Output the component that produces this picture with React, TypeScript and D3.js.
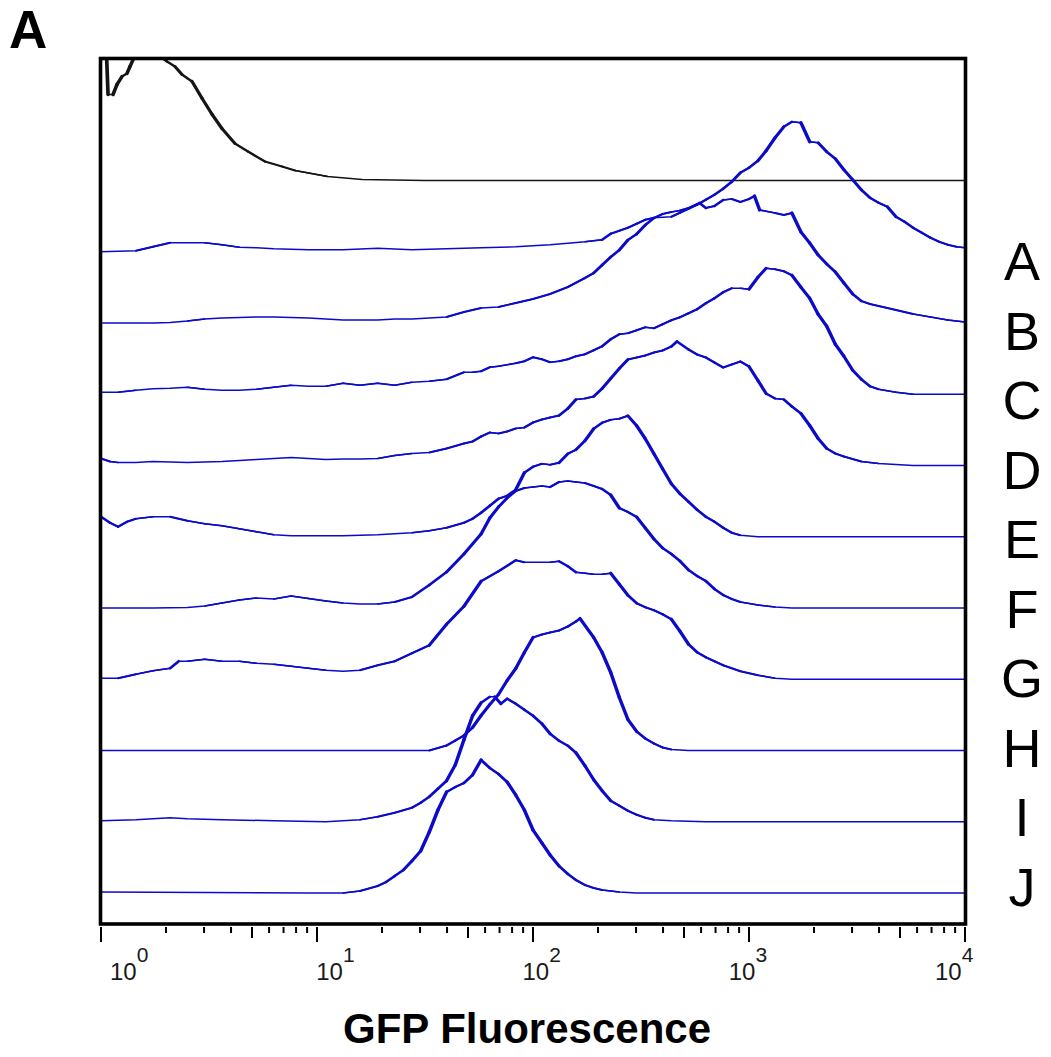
import React from "react";
import * as d3 from "d3";

type Pt = [number, number];

const rowLabels = ["A", "B", "C", "D", "E", "F", "G", "H", "I", "J"];
const tickExponents = [0, 1, 2, 3, 4];
const axisTitle = "GFP Fluorescence";
const panelLabel = "A";

// control (unstained) histogram: [fluorescence, relative count]
const control: Pt[] = [[1,150],[1.05,150],[1.078,86],[1.137,86],[1.186,96],[1.251,104],[1.319,107],[1.362,114],[1.437,125],[1.6,140],[1.78,135],[1.94,122],[2.02,119],[2.2,114],[2.37,106],[2.64,99],[2.94,82],[3.27,66],[3.63,52],[4.17,37],[4.79,29],[5.74,19],[6.89,14],[7.91,10],[11.2,4],[16.2,1],[31.6,0],[10000,0]];

const seriesA: Pt[] = [[1,0],[1.2,0.5],[1.45,1],[1.74,5],[2.09,9],[2.51,9],[3.02,9],[3.63,7],[4.37,4.5],[5.25,4],[6.31,3],[9.12,2],[13.2,2],[19.1,3.5],[27.5,2],[39.8,3],[57.5,4],[83.2,5],[100,6],[120,7],[145,8.5],[174,10],[209,12],[229,18],[251,21],[275,24],[302,28],[331,32],[363,34],[398,34.5],[437,35],[479,39],[525,43],[575,47],[631,52],[692,57],[759,63],[832,70],[912,79],[1000,84],[1100,91],[1200,101],[1320,114],[1450,125],[1580,130],[1740,129],[1910,110],[2090,109],[2290,100],[2510,93],[2750,82],[3020,72],[3310,62],[3630,54],[3980,49],[4370,45],[4790,35],[5250,30],[5750,24],[6310,19],[6920,14],[7590,10],[8320,7],[9120,5],[10000,4]];

const seriesB: Pt[] = [[1,0],[1.45,0],[1.74,0],[2.09,0.5],[2.51,2],[3.02,4],[3.63,5],[4.37,5.5],[5.25,6],[6.31,6],[7.59,5.5],[9.12,5],[11,4],[13.2,3],[15.8,3],[19.1,3],[22.9,4],[27.5,4],[33.1,5],[39.8,6],[47.9,11],[57.5,15],[69.2,16],[83.2,20],[100,24],[120,29],[145,36],[174,45],[191,50],[209,58],[229,66],[251,73],[275,83],[302,89],[331,98],[363,105],[398,109],[437,111],[479,112.5],[525,115],[590,120],[631,115],[692,117],[759,123],[832,124],[912,121],[1000,124],[1060,127],[1120,113],[1320,110],[1450,108],[1580,110],[1740,91],[1910,80],[2090,68],[2290,59],[2510,51],[2750,40],[3020,29],[3310,22],[3630,19],[3980,17],[4790,13],[5750,9],[6920,6],[8320,3],[10000,1]];

const seriesC: Pt[] = [[1,2],[1.2,2],[1.45,4],[1.74,5.5],[2.09,6],[2.51,7],[3.02,5],[3.63,4],[4.37,4],[5.25,5],[6.31,7],[7.59,9],[9.12,8],[11,8],[13.2,11],[15.8,9],[19.1,11],[22.9,9],[27.5,12],[33.1,13],[39.8,15],[47.9,22],[52.5,22],[57.5,23],[63.1,27],[69.2,28],[83.2,31],[91.2,33],[100,37],[110,35],[120,32],[132,33],[145,35],[158,38],[174,40],[191,44],[209,48],[229,55],[251,60],[275,61],[302,64],[331,67],[363,66],[398,70],[437,74],[479,77],[525,81],[575,85],[631,91],[692,96],[759,102],[832,106],[912,106],[1000,105],[1100,117],[1200,126],[1320,125],[1450,123],[1580,119],[1740,107],[1910,96],[2090,80],[2290,68],[2510,50],[2750,38],[3020,24],[3310,15],[3630,8],[3980,5],[4790,2],[5750,0],[10000,0]];

const seriesD: Pt[] = [[1,7],[1.1,4],[1.2,3],[1.45,3],[1.74,4],[2.09,3.5],[2.51,3],[3.02,3.5],[3.63,4],[4.37,5],[5.25,6],[6.31,7],[7.59,8],[9.12,7],[11,6],[13.2,6.5],[15.8,6.5],[19.1,7],[22.9,10],[27.5,12],[33.1,13],[39.8,17],[47.9,22],[52.5,24],[57.5,29],[63.1,33],[69.2,32],[75.9,34],[83.2,37],[91.2,38],[100,43],[110,46],[120,48],[132,50],[145,57],[158,66],[174,67],[191,69],[209,77],[229,87],[251,97],[275,106],[302,108],[331,110],[363,113],[398,115],[437,119],[464,124],[525,116],[575,111],[631,108],[692,103],[759,98],[832,101],[912,104],[1000,99],[1100,85],[1200,72],[1320,67],[1450,66],[1580,59],[1740,52],[1910,40],[2090,27],[2290,17],[2510,12],[2750,9],[3310,4],[3980,2],[5750,0],[10000,0]];

const seriesE: Pt[] = [[1,20],[1.1,14],[1.2,10],[1.32,15],[1.45,18],[1.74,20],[2.09,20],[2.51,16],[3.02,13],[3.63,11],[4.37,8],[5.25,5],[6.31,2],[7.59,1],[9.12,1],[13.2,1],[19.1,2],[22.9,3],[27.5,4],[33.1,6],[39.8,9],[47.9,14],[52.5,18],[57.5,24],[63.1,31],[69.2,38],[75.9,41],[83.2,47],[91.2,64],[100,70],[110,73],[120,72],[132,74],[145,83],[158,87],[174,96],[191,108],[209,114],[229,117],[251,118],[275,121],[302,111],[331,98],[363,83],[398,68],[437,53],[479,43],[525,35],[575,27],[631,20],[692,15],[759,9],[832,4],[912,1.5],[1100,0],[10000,0]];

const seriesF: Pt[] = [[1,0],[1.74,0],[2.51,0.5],[3.02,2],[3.63,5],[4.37,8],[5.25,10],[6.31,9],[7.59,12],[9.12,9.5],[11,7],[13.2,5],[15.8,4],[19.1,4],[22.9,6],[27.5,11],[33.1,23],[39.8,36],[47.9,54],[57.5,74],[63.1,90],[69.2,101],[75.9,110],[83.2,117],[91.2,120],[100,121],[110,122],[120,121],[132,126],[145,127],[158,126],[174,125],[191,122],[209,119],[229,113],[251,100],[275,96],[302,91],[331,80],[363,69],[398,60],[437,54],[479,47],[525,38],[575,32],[631,27],[692,19],[759,13],[832,9],[912,6],[1100,3],[1320,1],[1580,0],[10000,0]];

const seriesG: Pt[] = [[1,1],[1.2,1],[1.45,5],[1.74,8.5],[2.09,11],[2.29,18],[2.51,18],[3.02,20],[3.63,18],[4.37,18],[5.25,16],[6.31,15],[7.59,13],[9.12,11],[11,9],[13.2,8],[15.8,9],[19.1,14],[22.9,18],[27.5,26],[33.1,34],[39.8,55],[47.9,73],[57.5,98],[69.2,108],[83.2,119],[91.2,117],[100,117],[110,117],[120,117],[132,118],[145,113],[158,107],[174,106],[191,105],[209,105],[229,106],[251,95],[275,84],[302,76],[331,72],[363,69],[398,65],[437,60],[479,48],[525,35],[575,27],[631,22],[692,18],[759,14],[912,8],[1100,4],[1320,1],[1580,0],[10000,0]];

const seriesH: Pt[] = [[1,0],[33.1,0],[36.3,2.5],[39.8,5],[43.7,10],[47.9,15],[52.5,23],[57.5,35],[63.1,46],[69.2,56],[75.9,70],[83.2,82],[91.2,98],[100,113],[110,116],[120,118],[132,120],[145,124],[158,129],[165,132],[191,113],[209,98],[229,78],[251,53],[275,31],[302,19],[331,12],[363,7],[398,3],[437,1],[525,0],[10000,0]];

const seriesI: Pt[] = [[1,1],[1.45,2],[1.74,3],[2.09,4],[2.51,3],[3.63,2],[6.31,1],[11,0],[15.8,2],[19.1,5],[22.9,9],[27.5,14],[30.2,19],[33.1,25],[36.3,33],[39.8,41],[43.7,57],[47.9,82],[52.5,106],[57.5,119],[63.1,125],[66.5,125],[71,118],[75.9,123],[83.2,118],[91.2,112],[100,106],[110,98],[120,88],[132,81],[145,76],[158,69],[174,56],[191,42],[209,31],[229,21],[251,16],[275,11],[302,7],[331,4],[363,2],[437,1],[631,0],[10000,0]];

const seriesJ: Pt[] = [[1,1],[9.12,0],[13.2,0],[15.8,2],[19.1,7],[20.9,11],[22.9,17],[25.1,23],[27.5,32],[30.2,42],[33.1,61],[36.3,83],[39.8,101],[43.7,106],[47.9,110],[52.5,118],[57.5,133],[63.1,125],[69.2,119],[75.9,111],[83.2,98],[91.2,83],[100,63],[110,50],[120,38],[132,27],[145,19],[158,13],[174,8],[191,5],[209,3],[251,1],[302,0],[10000,0]];

const samples: Pt[][] = [seriesA, seriesB, seriesC, seriesD, seriesE, seriesF, seriesG, seriesH, seriesI, seriesJ];

export default function App() {
  const W = 1051, H = 1057;
  const frame = { left: 100.5, right: 965.5, top: 58.5, bottom: 924 };

  const x = d3.scaleLog().domain([1, 10000]).range([101, 965]);
  const yCount = d3.scaleLinear().domain([0, 150]).range([0, 150]);
  const rowBase = d3.scaleLinear().domain([0, 10]).range([180.5, 893]);
  const labelBase = d3.scaleLinear().domain([0, 9]).range([280, 905.5]);
  const tickLabelLeft = d3.scaleLinear().domain([0, 4]).range([110, 935]);

  const lineFor = (base: number) =>
    d3.line<Pt>().x((d) => x(d[0])).y((d) => base - yCount(d[1])).curve(d3.curveLinear);

  // histogram trace: thin base line plus slope-weighted segments,
  // mimicking the thicker look of steep flanks in the original
  const trace = (pts: Pt[], base: number, color: string, thin: number, gain: number, key: string) => {
    const P = pts.map((d) => [x(d[0]), base - yCount(d[1])] as [number, number]);
    const segs = [] as JSX.Element[];
    for (let i = 0; i < P.length - 1; i++) {
      const [x1, y1] = P[i];
      const [x2, y2] = P[i + 1];
      const len = Math.hypot(x2 - x1, y2 - y1) || 1;
      const steep = Math.abs(y2 - y1) / len;
      const w = thin + gain * steep;
      if (w - thin > 0.25) {
        segs.push(
          <line key={key + i} x1={x1} y1={y1} x2={x2} y2={y2} stroke={color}
            strokeWidth={w} strokeLinecap="round" />
        );
      }
    }
    return (
      <g key={key}>
        <path d={lineFor(base)(pts) || ""} fill="none" stroke={color} strokeWidth={thin + 0.2}
          strokeLinejoin="round" />
        {segs}
      </g>
    );
  };

  const ticks = x.ticks();
  const font = "'Liberation Sans', Arial, Helvetica, sans-serif";
  const blue = "#0b0bc8";

  return (
    <svg width={W} height={H} style={{ position: "absolute", left: 0, top: 0, background: "#fff" }}
      fontFamily={font}>
      <defs>
        <clipPath id="plotClip">
          <rect x={frame.left} y={frame.top} width={frame.right - frame.left} height={frame.bottom - frame.top} />
        </clipPath>
      </defs>
      <rect x={0} y={0} width={W} height={H} fill="#fff" />
      <g clipPath="url(#plotClip)">
        {trace(control, rowBase(0), "#151515", 1.1, 2.6, "ctrl")}
        {samples.map((s, i) => trace(s, rowBase(i + 1), blue, 1.3, 2.3, "s" + i))}
      </g>
      <rect x={frame.left} y={frame.top} width={frame.right - frame.left} height={frame.bottom - frame.top}
        fill="none" stroke="#000" strokeWidth={3.6} />
      {ticks.map((t, i) => {
        const m = Math.round(t / Math.pow(10, Math.floor(Math.log10(t) + 1e-9)));
        const len = m === 1 ? 15 : m === 5 ? 11 : 6;
        return (
          <line key={i} x1={x(t)} x2={x(t)} y1={frame.bottom + 3} y2={frame.bottom + 3 + len}
            stroke="#000" strokeWidth={2} />
        );
      })}
      {tickExponents.map((e) => (
        <text key={e} x={tickLabelLeft(e)} y={980} fontSize={24} fill="#1a1a1a">
          10
          <tspan dy={-18} fontSize={21}>{e}</tspan>
        </text>
      ))}
      <text x={527} y={1043} fontSize={42} fontWeight="bold" textAnchor="middle" fill="#000">
        {axisTitle}
      </text>
      <text x={9} y={48} fontSize={53} fontWeight="bold" fill="#000">{panelLabel}</text>
      {rowLabels.map((l, i) => (
        <text key={l} x={1022} y={labelBase(i)} fontSize={54} textAnchor="middle" fill="#000">{l}</text>
      ))}
    </svg>
  );
}
